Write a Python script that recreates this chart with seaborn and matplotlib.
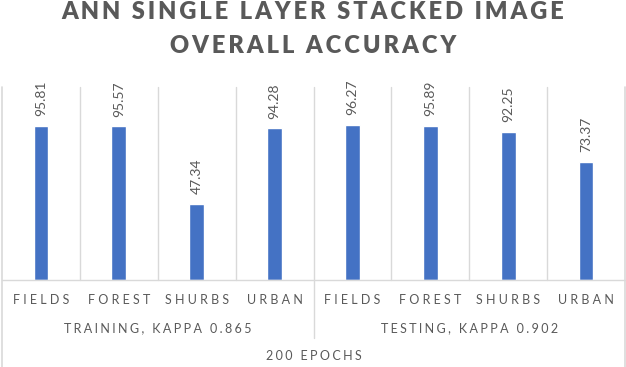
import matplotlib
matplotlib.use("Agg")
import matplotlib.pyplot as plt
import seaborn as sns
import pandas as pd

# ---- data ----
categories = ["FIELDS", "FOREST", "SHURBS", "URBAN"]
groups = ["TRAINING, KAPPA 0.865", "TESTING, KAPPA 0.902"]
training_values = [95.81, 95.57, 47.34, 94.28]
testing_values = [96.27, 95.89, 92.25, 73.37]
outer_label = "200 EPOCHS"
title_lines = ["ANN SINGLE LAYER STACKED IMAGE", "OVERALL ACCURACY"]

BAR = "#4472C4"
TXT = "#595959"
GRID = "#D9D9D9"
FONT = ["Lato", "DejaVu Sans"]


def spaced(s, sp="\u2009"):
    return sp.join(list(s))


rows = []
for g, vals in zip(groups, [training_values, testing_values]):
    for c, v in zip(categories, vals):
        rows.append({"key": f"{g}|{c}", "group": g, "cat": c, "value": v})
df = pd.DataFrame(rows)

sns.set_theme(style="white")
plt.rcParams["font.family"] = FONT

W, H = 626, 367
fig = plt.figure(figsize=(W / 100, H / 100), dpi=100)
x0, x1 = 2, 625
ytop, ybase = 87, 280
ax = fig.add_axes([x0 / W, (H - ybase) / H, (x1 - x0) / W, (ybase - ytop) / H])

sns.barplot(data=df, x="key", y="value", order=list(df["key"]), color=BAR,
            saturation=1, width=0.19, ax=ax, errorbar=None)
ax.set_ylim(0, 120)
ax.set_xlim(-0.5, len(df) - 0.5)
for s in ax.spines.values():
    s.set_visible(False)
ax.set_xticks([])
ax.set_yticks([])
ax.set_xlabel("")
ax.set_ylabel("")

# data labels
ax.bar_label(ax.containers[0], labels=[f"{v:.2f}" for v in df["value"]],
             rotation=90, padding=7, color=TXT, fontsize=10, family=FONT)

ph = ybase - ytop
def ay(py):
    return (ybase - py) / ph

trans = ax.get_xaxis_transform()
n = len(df)
# gridlines between categories
for i in range(n - 1):
    xb = i + 0.5
    if i == 3:
        ax.plot([xb, xb], [1, ay(338)], color=GRID, lw=1, transform=trans, clip_on=False)
    else:
        ax.plot([xb, xb], [0, 1], color=GRID, lw=1, transform=trans, clip_on=False)
for xb in [-0.5, n - 0.5]:
    ax.plot([xb, xb], [1, ay(367)], color=GRID, lw=1.2, transform=trans, clip_on=False)
ax.plot([-0.5, n - 0.5], [0, 0], color=GRID, lw=1, transform=trans, clip_on=False)

SP2 = "\u2009\u2009"
SPG = "\u2009\u200a"
# category labels
for i, c in enumerate(df["cat"]):
    ax.text(i, ay(300), spaced(c, SP2), transform=trans, ha="center", va="center",
            color=TXT, fontsize=9, family=FONT)
# group labels
for gi, g in enumerate(groups):
    ax.text(gi * 4 + 1.5, ay(328), spaced(g, SPG), transform=trans, ha="center",
            va="center", color=TXT, fontsize=9, family=FONT)
ax.text((n - 1) / 2, ay(356), spaced(outer_label, SPG), transform=trans, ha="center",
        va="center", color=TXT, fontsize=9, family=FONT)

# title
fig.text(0.5, 1 - 12 / H, spaced(title_lines[0]), ha="center", va="center",
         color=TXT, fontsize=17, fontweight="heavy", family=FONT)
fig.text(0.5, 1 - 46 / H, spaced(title_lines[1]), ha="center", va="center",
         color=TXT, fontsize=17, fontweight="heavy", family=FONT)

fig.savefig("out.png", dpi=100, facecolor="white")
